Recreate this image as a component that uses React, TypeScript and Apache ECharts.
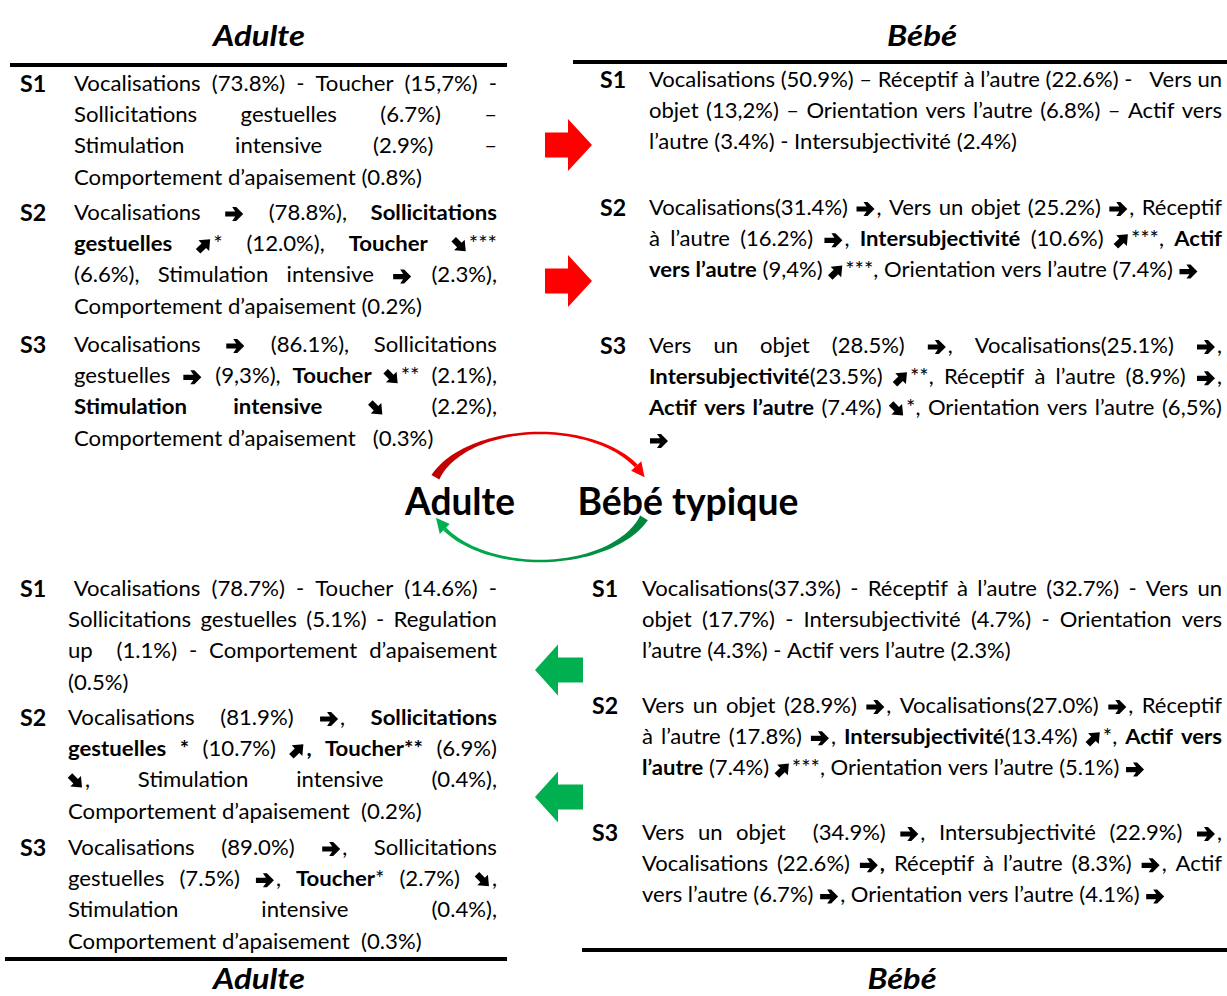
import React, { useEffect, useRef } from "react";
import * as echarts from "echarts";

// ---------- DATA (text of each paragraph, {…} = bold, ➔ ➚ ➘ = trend arrows) ----------
const titleAdult = "Adulte";
const titleBaby = "Bébé";
const centerLeft = "Adulte";
const centerRight = "Bébé typique";
const sessionLabels = ["S1", "S2", "S3"];

const adultTopS1 = [
  "Vocalisations (73.8%) - Toucher (15,7%) -",
  "Sollicitations gestuelles (6.7%) –",
  "Stimulation intensive (2.9%) –",
  "Comportement d’apaisement (0.8%)",
];
const adultTopS2 = [
  "Vocalisations ➔ (78.8%), {Sollicitations}",
  "{gestuelles} ➚* (12.0%), {Toucher} ➘***",
  "(6.6%), Stimulation intensive ➔ (2.3%),",
  "Comportement d’apaisement (0.2%)",
];
const adultTopS3 = [
  "Vocalisations ➔ (86.1%), Sollicitations",
  "gestuelles ➔ (9,3%), {Toucher} ➘** (2.1%),",
  "{Stimulation} {intensive} ➘ (2.2%),",
  "Comportement d’apaisement   (0.3%)",
];
const babyTopS1 = [
  "Vocalisations (50.9%) – Réceptif à l’autre (22.6%) -   Vers un",
  "objet (13,2%) – Orientation vers l’autre (6.8%) – Actif vers",
  "l’autre (3.4%) - Intersubjectivité (2.4%)",
];
const babyTopS2 = [
  "Vocalisations(31.4%) ➔, Vers un objet (25.2%) ➔, Réceptif",
  "à l’autre (16.2%) ➔, {Intersubjectivité} (10.6%) ➚***, {Actif}",
  "{vers l’autre} (9,4%) ➚***, Orientation vers l’autre (7.4%) ➔",
];
const babyTopS3 = [
  "Vers un objet (28.5%) ➔, Vocalisations(25.1%) ➔,",
  "{Intersubjectivité}(23.5%) ➚**, Réceptif à l’autre (8.9%) ➔,",
  "{Actif vers l’autre} (7.4%) ➘*, Orientation vers l’autre (6,5%)",
  "➔",
];
const adultBottomS1 = [
  " Vocalisations (78.7%) - Toucher (14.6%) -",
  "Sollicitations gestuelles (5.1%) - Regulation",
  "up  (1.1%) - Comportement d’apaisement",
  "(0.5%)",
];
const adultBottomS2 = [
  "Vocalisations (81.9%) ➔, {Sollicitations}",
  "{gestuelles *} (10.7%) ➚{, Toucher**} (6.9%)",
  "➘, Stimulation intensive (0.4%),",
  "Comportement d’apaisement  (0.2%)",
];
const adultBottomS3 = [
  "Vocalisations (89.0%) ➔, Sollicitations",
  "gestuelles (7.5%) ➔, {Toucher}* (2.7%) ➘,",
  "Stimulation intensive (0.4%),",
  "Comportement d’apaisement  (0.3%)",
];
const babyBottomS1 = [
  "Vocalisations(37.3%) - Réceptif à l’autre (32.7%) - Vers un",
  "objet (17.7%) - Intersubjectivité (4.7%) - Orientation vers",
  "l’autre (4.3%) - Actif vers l’autre (2.3%)",
];
const babyBottomS2 = [
  "Vers un objet (28.9%) ➔, Vocalisations(27.0%) ➔, Réceptif",
  "à l’autre (17.8%) ➔, {Intersubjectivité}(13.4%) ➚*, {Actif vers}",
  "{l’autre} (7.4%) ➚***, Orientation vers l’autre (5.1%) ➔",
];
const babyBottomS3 = [
  "Vers un objet  (34.9%) ➔, Intersubjectivité (22.9%) ➔,",
  "Vocalisations (22.6%) ➔{,} Réceptif à l’autre (8.3%) ➔, Actif",
  "vers l’autre (6.7%) ➔, Orientation vers l’autre (4.1%) ➔",
];

// ---------- LAYOUT ----------
const W = 1227;
const H = 996;
const BODY_FAMILY = "Lato";
const BODY_SIZE = 21;
const LABEL_SIZE = 22;
const LINE_GAP = 31.3;
const ARROW_CHARS = "➔➚➘";
const ARROW_ADV: Record<string, number> = { "➔": 21, "➚": 17, "➘": 17 };

const paragraphs = [
  { label: 0, lines: adultTopS1, side: "L", labelX: 20, left: 74, right: 497, y: 83 },
  { label: 1, lines: adultTopS2, side: "L", labelX: 20, left: 74, right: 497, y: 212 },
  { label: 2, lines: adultTopS3, side: "L", labelX: 20, left: 74, right: 497, y: 344 },
  { label: 0, lines: babyTopS1, side: "R", labelX: 600, left: 649, right: 1222, y: 79 },
  { label: 1, lines: babyTopS2, side: "R", labelX: 600, left: 649, right: 1222, y: 207 },
  { label: 2, lines: babyTopS3, side: "R", labelX: 600, left: 649, right: 1222, y: 345 },
  { label: 0, lines: adultBottomS1, side: "L", labelX: 20, left: 68, right: 497, y: 588 },
  { label: 1, lines: adultBottomS2, side: "L", labelX: 20, left: 68, right: 497, y: 717 },
  { label: 2, lines: adultBottomS3, side: "L", labelX: 20, left: 68, right: 497, y: 847 },
  { label: 0, lines: babyBottomS1, side: "R", labelX: 592, left: 642, right: 1222, y: 588 },
  { label: 1, lines: babyBottomS2, side: "R", labelX: 592, left: 642, right: 1222, y: 705 },
  { label: 2, lines: babyBottomS3, side: "R", labelX: 592, left: 642, right: 1222, y: 832 },
];

let measureCtx: CanvasRenderingContext2D | null = null;
function textWidth(text: string, size: number, weight: string, family: string, style = "normal") {
  if (!measureCtx) measureCtx = document.createElement("canvas").getContext("2d");
  measureCtx!.font = `${style} ${weight} ${size}px "${family}"`;
  return measureCtx!.measureText(text).width;
}

type Run = { text: string; bold: boolean; arrow: boolean };

function parseLine(line: string): Run[][] {
  const words: Run[][] = [];
  let cur: Run[] = [];
  let bold = false;
  for (const ch of Array.from(line)) {
    if (ch === "{") { bold = true; continue; }
    if (ch === "}") { bold = false; continue; }
    if (ch === " ") { words.push(cur); cur = []; continue; }
    const arrow = ARROW_CHARS.includes(ch);
    const last = cur[cur.length - 1];
    if (last && last.bold === bold && !last.arrow && !arrow) last.text += ch;
    else cur.push({ text: ch, bold, arrow });
  }
  words.push(cur);
  return words;
}

function makeText(text: string, x: number, y: number, o: any) {
  return {
    type: "text",
    x,
    y,
    scaleX: o.scaleX ?? 1,
    scaleY: o.scaleY ?? 1,
    silent: true,
    style: {
      text,
      x: 0,
      y: 0,
      fill: o.fill ?? "#000",
      fontSize: o.size,
      fontFamily: o.family,
      fontWeight: o.weight ?? "normal",
      fontStyle: o.style ?? "normal",
      align: o.align ?? "left",
      verticalAlign: "middle",
      textAlign: o.align ?? "left",
      textVerticalAlign: "middle",
    },
  };
}

// heavy trend arrow drawn as a polygon (left edge x0, centre y)
function trendArrow(ch: string, x0: number, y: number) {
  let local: number[][];
  let angle = 0;
  let cx: number;
  if (ch === "➔") {
    local = [[-9, -2.6], [1, -2.6], [-2, -7], [2, -7], [9, 0], [2, 7], [-2, 7], [1, 2.6], [-9, 2.6]];
    cx = x0 + 10;
  } else {
    local = [[-8.5, -3.2], [-0.5, -3.2], [-0.5, -7.5], [8.5, 0], [-0.5, 7.5], [-0.5, 3.2], [-8.5, 3.2]];
    angle = ch === "➚" ? -Math.PI / 4 : Math.PI / 4;
    cx = x0 + 8;
  }
  const c = Math.cos(angle), s = Math.sin(angle);
  const pts = local.map(([px, py]) => [cx + px * c - py * s, y + px * s + py * c]);
  return { type: "polygon", silent: true, shape: { points: pts }, style: { fill: "#000" } };
}

function buildElements() {
  const els: any[] = [];
  const scaleL = 348 / textWidth("Comportement d’apaisement (0.8%)", BODY_SIZE, "normal", BODY_FAMILY);
  const scaleR = 368 / textWidth("l’autre (3.4%) - Intersubjectivité (2.4%)", BODY_SIZE, "normal", BODY_FAMILY);

  for (const p of paragraphs) {
    const scale = p.side === "L" ? scaleL : scaleR;
    els.push(
      makeText(sessionLabels[p.label], p.labelX, p.y + 1, {
        size: LABEL_SIZE, family: BODY_FAMILY, weight: "bold", scaleX: scale,
      })
    );
    const runW = (r: Run) =>
      r.arrow
        ? ARROW_ADV[r.text]
        : textWidth(r.text, BODY_SIZE, r.bold ? "bold" : "normal", BODY_FAMILY) * scale;
    const spaceW = textWidth(" ", BODY_SIZE, "normal", BODY_FAMILY) * scale;
    p.lines.forEach((line, li) => {
      const y = p.y + li * LINE_GAP;
      const words = parseLine(line);
      let lead = 0;
      while (lead < words.length - 1 && words[lead].length === 0) lead++;
      const wordW = words.map((w) => w.reduce((s, r) => s + runW(r), 0));
      const gaps = words.length - 1 - lead;
      const natural = wordW.reduce((s, v) => s + v, 0) + (words.length - 1) * spaceW;
      const justify = li < p.lines.length - 1 && gaps > 0;
      let gapW = spaceW;
      if (justify) gapW = spaceW + (p.right - p.left - natural) / gaps;
      let x = p.left;
      words.forEach((w, wi) => {
        let rx = x;
        w.forEach((r) => {
          if (r.arrow) {
            els.push(trendArrow(r.text, rx, y + 2));
          } else {
            els.push(
              makeText(r.text, rx, y, {
                size: BODY_SIZE, family: BODY_FAMILY, weight: r.bold ? "bold" : "normal", scaleX: scale,
              })
            );
          }
          rx += runW(r);
        });
        x += wordW[wi] + (wi < lead ? spaceW : gapW);
      });
    });
  }

  // titles
  const fitted = (text: string, cx: number, y: number, size: number, target: number, italic: boolean) => {
    const w = textWidth(text, size, "bold", BODY_FAMILY, italic ? "italic" : "normal");
    return makeText(text, cx, y, {
      size, family: BODY_FAMILY, weight: "bold", style: italic ? "italic" : "normal",
      align: "center", scaleX: target / w,
    });
  };
  els.push(fitted(titleAdult, 259, 35, 28, 92, true));
  els.push(fitted(titleBaby, 922, 35, 28, 70, true));
  els.push(fitted(titleAdult, 259, 978, 28, 92, true));
  els.push(fitted(titleBaby, 902, 978, 28, 69, true));
  els.push(fitted(centerLeft, 460, 500, 38, 110, false));
  els.push(fitted(centerRight, 688, 500, 38, 221, false));

  // horizontal rules
  const rule = (x1: number, x2: number, y: number) => ({
    type: "rect", silent: true,
    shape: { x: x1, y: y - 2, width: x2 - x1, height: 4 },
    style: { fill: "#000" },
  });
  els.push(rule(10, 507, 65));
  els.push(rule(573, W, 62));
  els.push(rule(5, 507, 959));
  els.push(rule(582, W, 950));

  // block arrows
  const rightArrow = (cy: number) => ({
    type: "polygon", silent: true,
    shape: {
      points: [
        [545, cy - 12.5], [568, cy - 12.5], [568, cy - 26], [592, cy],
        [568, cy + 26], [568, cy + 12.5], [545, cy + 12.5],
      ],
    },
    style: { fill: "#ff0000" },
  });
  const leftArrow = (cy: number) => ({
    type: "polygon", silent: true,
    shape: {
      points: [
        [583, cy - 12.5], [558, cy - 12.5], [558, cy - 25.5], [535, cy],
        [558, cy + 25.5], [558, cy + 12.5], [583, cy + 12.5],
      ],
    },
    style: { fill: "#00b050" },
  });
  els.push(rightArrow(145));
  els.push(rightArrow(281));
  els.push(leftArrow(670));
  els.push(leftArrow(797));

  // curved arrows around centre
  const cx = 540, cy = 497, rx = 110, ry = 64;
  const pt = (deg: number) => {
    const a = (deg * Math.PI) / 180;
    return [cx + rx * Math.cos(a), cy - ry * Math.sin(a)];
  };
  const nrm = (deg: number) => {
    const a = (deg * Math.PI) / 180;
    const nx = Math.cos(a) / rx, ny = -Math.sin(a) / ry;
    const l = Math.hypot(nx, ny);
    return [nx / l, ny / l];
  };
  const arc = (a0: number, a1: number, aTip: number, w0: number, wm: number, w1: number, c0: string, c1: string, gradDir: number) => {
    const outer: number[][] = [], inner: number[][] = [];
    const n = 60;
    for (let i = 0; i <= n; i++) {
      const t = i / n;
      const a = a0 + (a1 - a0) * t;
      const w = t < 0.5 ? wm + (w0 - wm) * Math.pow(1 - 2 * t, 2) : wm + (w1 - wm) * Math.pow(2 * t - 1, 2);
      const p = pt(a), q = nrm(a);
      outer.push([p[0] + (q[0] * w) / 2, p[1] + (q[1] * w) / 2]);
      inner.push([p[0] - (q[0] * w) / 2, p[1] - (q[1] * w) / 2]);
    }
    const grad = new echarts.graphic.LinearGradient(gradDir > 0 ? 0 : 1, 0, gradDir > 0 ? 1 : 0, 0, [
      { offset: 0, color: c0 },
      { offset: 1, color: c1 },
    ]);
    const pb = pt(a1), qb = nrm(a1), tip = pt(aTip);
    return [
      { type: "polygon", silent: true, shape: { points: outer.concat(inner.reverse()) }, style: { fill: grad } },
      {
        type: "polygon", silent: true,
        shape: { points: [[pb[0] + qb[0] * 7, pb[1] + qb[1] * 7], tip, [pb[0] - qb[0] * 7, pb[1] - qb[1] * 7]] },
        style: { fill: c1 },
      },
    ];
  };
  els.push(...arc(162, 29, 18, 9, 2.5, 4, "#c00000", "#ff0000", 1));
  els.push(...arc(-19, -150, -161, 9, 2.5, 4, "#00843c", "#00b050", -1));

  return els;
}

export default function App() {
  const ref = useRef<HTMLDivElement>(null);
  useEffect(() => {
    if (!ref.current) return;
    const chart = echarts.init(ref.current, null, { renderer: "svg" });
    chart.setOption({
      animation: false,
      backgroundColor: "#ffffff",
      graphic: { elements: buildElements() },
    });
    return () => chart.dispose();
  }, []);
  return (
    <div
      ref={ref}
      style={{ position: "fixed", left: 0, top: 0, width: W, height: H, background: "#fff" }}
    />
  );
}
